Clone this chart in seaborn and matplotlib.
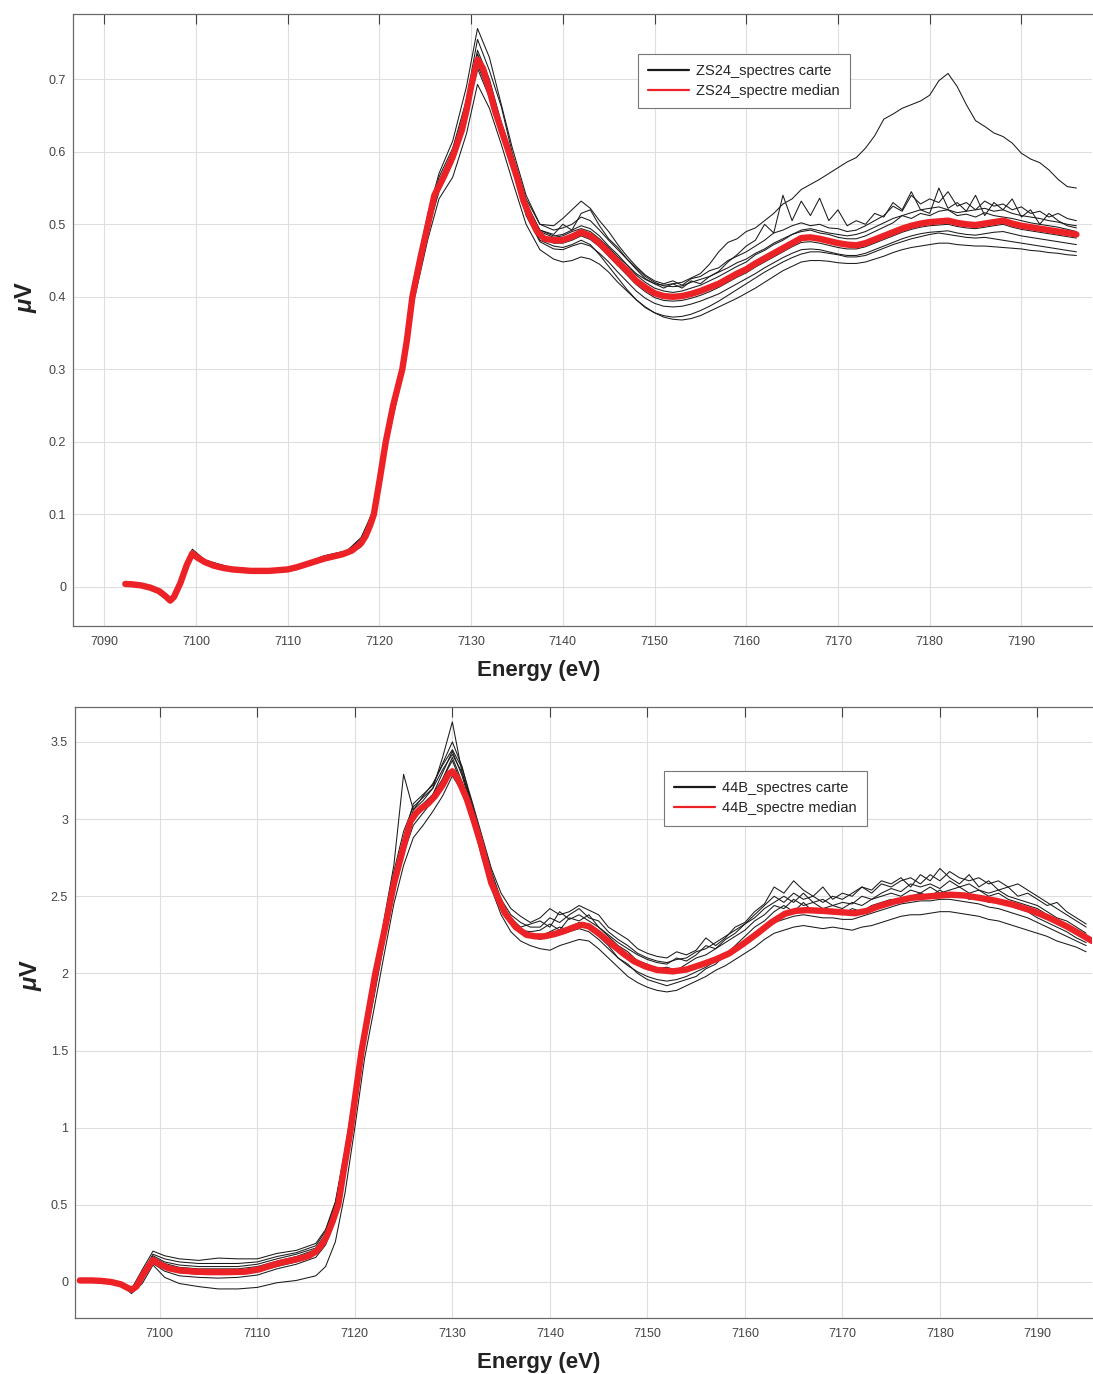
import pandas as pd
import matplotlib
matplotlib.use('Agg')
import matplotlib.pyplot as plt
from matplotlib.lines import Line2D
import seaborn as sns

# ---------------- ZS24 (top panel) ----------------
E_ZS24_MED = [7092.3, 7093, 7094, 7095, 7096, 7096.7, 7097.2, 7097.6, 7098.3, 7099, 7099.6, 7100.2,
              7101, 7102, 7103, 7104, 7105, 7106, 7107, 7108, 7109, 7110, 7111, 7112, 7113, 7114,
              7115, 7116, 7117, 7118, 7118.5, 7119, 7119.4, 7120, 7120.7, 7121.5, 7122.5, 7123,
              7123.6, 7124.5, 7125.3, 7126, 7127, 7128, 7129, 7129.5, 7130, 7130.7, 7131.3, 7132,
              7132.6, 7133.3, 7134.1, 7135, 7135.7, 7136.5, 7137.2, 7138] + list(range(7139, 7197))
MU_ZS24_MED = [0.004, 0.0035, 0.002, -0.001, -0.006, -0.013, -0.019, -0.014, 0.005, 0.030, 0.046, 0.040,
               0.034, 0.029, 0.026, 0.024, 0.023, 0.022, 0.022, 0.022, 0.023, 0.024, 0.027, 0.031, 0.035, 0.039,
               0.042, 0.045, 0.050, 0.060, 0.070, 0.085, 0.100, 0.145, 0.200, 0.250, 0.300, 0.340,
               0.400, 0.455, 0.500, 0.540, 0.565, 0.593, 0.630, 0.657, 0.690, 0.727, 0.715, 0.685,
               0.657, 0.630, 0.600, 0.565, 0.533, 0.508, 0.490, 0.480,
               0.478, 0.478, 0.483, 0.489, 0.484, 0.474, 0.461, 0.448, 0.436, 0.422,
               0.413, 0.405, 0.401, 0.400, 0.401, 0.404, 0.408, 0.413, 0.418, 0.425,
               0.432, 0.438, 0.446, 0.453, 0.460, 0.467, 0.474, 0.481, 0.482, 0.480,
               0.477, 0.474, 0.472, 0.471, 0.474, 0.479, 0.484, 0.489, 0.494, 0.498,
               0.501, 0.503, 0.504, 0.505, 0.502, 0.500, 0.499, 0.501, 0.503, 0.505,
               0.501, 0.498, 0.496, 0.494, 0.492, 0.490, 0.488, 0.486]

E_ZS24 = [7092.3, 7095, 7097.2, 7098.3, 7099.6, 7101, 7104, 7108, 7111, 7114, 7116.5,
          7118, 7119.4, 7120.7, 7122.5, 7123.6, 7125.3, 7126.5, 7128, 7129.5, 7130.7, 7132,
          7133.3, 7134.5, 7136, 7137.5] + list(range(7139, 7197))

ZS24_1 = [0.004, -0.001, -0.021, 0.006, 0.052, 0.037, 0.026, 0.024, 0.028, 0.043, 0.050,
          0.066, 0.108, 0.210, 0.310, 0.415, 0.515, 0.570, 0.615, 0.690, 0.770, 0.730, 0.665, 0.605, 0.540, 0.500,
          0.492, 0.495, 0.500, 0.510, 0.505, 0.492, 0.478, 0.465, 0.452, 0.440,
          0.428, 0.420, 0.415, 0.414, 0.415, 0.420, 0.424, 0.428, 0.434, 0.440,
          0.447, 0.452, 0.460, 0.466, 0.474, 0.480, 0.486, 0.492, 0.494, 0.491,
          0.488, 0.486, 0.484, 0.486, 0.490, 0.496, 0.502, 0.508, 0.512, 0.516,
          0.520, 0.522, 0.524, 0.520, 0.516, 0.518, 0.520, 0.522, 0.518, 0.520,
          0.515, 0.512, 0.510, 0.508, 0.505, 0.503, 0.500, 0.498]
ZS24_2 = [0.004, -0.001, -0.017, 0.004, 0.044, 0.033, 0.023, 0.021, 0.025, 0.036, 0.044,
          0.055, 0.094, 0.190, 0.290, 0.385, 0.480, 0.535, 0.565, 0.625, 0.693, 0.660, 0.610, 0.560, 0.500, 0.465,
          0.452, 0.448, 0.450, 0.455, 0.452, 0.445, 0.434, 0.420, 0.408, 0.396,
          0.386, 0.378, 0.372, 0.369, 0.368, 0.370, 0.374, 0.380, 0.386, 0.392,
          0.398, 0.405, 0.412, 0.420, 0.428, 0.436, 0.442, 0.448, 0.450, 0.450,
          0.449, 0.447, 0.446, 0.446, 0.448, 0.452, 0.456, 0.461, 0.465, 0.468,
          0.470, 0.472, 0.474, 0.474, 0.472, 0.471, 0.470, 0.470, 0.469, 0.468,
          0.467, 0.466, 0.464, 0.463, 0.461, 0.460, 0.458, 0.457]
ZS24_3 = [0.004, -0.001, -0.019, 0.005, 0.048, 0.035, 0.025, 0.023, 0.028, 0.040, 0.048,
          0.062, 0.102, 0.205, 0.305, 0.405, 0.505, 0.560, 0.600, 0.665, 0.740, 0.700, 0.640, 0.595, 0.530, 0.492,
          0.486, 0.500, 0.492, 0.515, 0.520, 0.498, 0.480, 0.468, 0.452, 0.438,
          0.425, 0.418, 0.412, 0.418, 0.412, 0.422, 0.418, 0.428, 0.435, 0.448,
          0.458, 0.470, 0.478, 0.500, 0.488, 0.540, 0.505, 0.532, 0.512, 0.536,
          0.505, 0.520, 0.498, 0.505, 0.500, 0.515, 0.510, 0.530, 0.520, 0.545,
          0.520, 0.515, 0.550, 0.522, 0.530, 0.518, 0.540, 0.512, 0.530, 0.520,
          0.535, 0.510, 0.520, 0.500, 0.515, 0.505, 0.498, 0.495]
ZS24_4 = [0.004, -0.001, -0.020, 0.004, 0.045, 0.033, 0.023, 0.021, 0.026, 0.037, 0.045,
          0.058, 0.098, 0.195, 0.295, 0.395, 0.492, 0.545, 0.585, 0.648, 0.715, 0.675, 0.622, 0.578, 0.512, 0.476,
          0.466, 0.465, 0.470, 0.474, 0.470, 0.460, 0.448, 0.434, 0.421, 0.408,
          0.398, 0.391, 0.387, 0.386, 0.387, 0.390, 0.394, 0.399, 0.404, 0.411,
          0.418, 0.425, 0.432, 0.440, 0.447, 0.454, 0.460, 0.465, 0.466, 0.465,
          0.462, 0.459, 0.457, 0.457, 0.460, 0.465, 0.470, 0.475, 0.480, 0.484,
          0.487, 0.489, 0.490, 0.491, 0.488, 0.486, 0.485, 0.487, 0.489, 0.490,
          0.487, 0.484, 0.482, 0.480, 0.478, 0.476, 0.474, 0.472]
ZS24_5 = [0.004, -0.001, -0.019, 0.005, 0.047, 0.035, 0.025, 0.022, 0.027, 0.040, 0.048,
          0.061, 0.101, 0.202, 0.302, 0.403, 0.503, 0.556, 0.598, 0.662, 0.735, 0.695, 0.638, 0.592, 0.528, 0.492,
          0.484, 0.486, 0.492, 0.498, 0.494, 0.484, 0.470, 0.458, 0.444, 0.430,
          0.420, 0.412, 0.408, 0.406, 0.408, 0.412, 0.416, 0.422, 0.428, 0.435,
          0.442, 0.448, 0.458, 0.464, 0.472, 0.478, 0.486, 0.490, 0.492, 0.488,
          0.486, 0.482, 0.480, 0.480, 0.484, 0.490, 0.496, 0.502, 0.512, 0.508,
          0.515, 0.512, 0.518, 0.520, 0.512, 0.514, 0.510, 0.516, 0.512, 0.510,
          0.508, 0.505, 0.502, 0.500, 0.498, 0.496, 0.493, 0.490]
ZS24_6 = [0.004, -0.001, -0.020, 0.004, 0.046, 0.034, 0.024, 0.022, 0.026, 0.038, 0.046,
          0.058, 0.098, 0.198, 0.298, 0.398, 0.496, 0.548, 0.588, 0.650, 0.720, 0.680, 0.626, 0.582, 0.516, 0.478,
          0.470, 0.468, 0.472, 0.478, 0.472, 0.458, 0.442, 0.426, 0.410, 0.396,
          0.385, 0.378, 0.374, 0.372, 0.373, 0.376, 0.381, 0.387, 0.394, 0.402,
          0.410, 0.418, 0.426, 0.434, 0.441, 0.448, 0.454, 0.459, 0.462, 0.462,
          0.460, 0.458, 0.455, 0.455, 0.457, 0.462, 0.467, 0.472, 0.476, 0.480,
          0.483, 0.486, 0.488, 0.486, 0.484, 0.482, 0.481, 0.482, 0.480, 0.478,
          0.476, 0.474, 0.472, 0.470, 0.468, 0.466, 0.464, 0.462]
ZS24_7 = [0.004, -0.001, -0.019, 0.005, 0.049, 0.036, 0.025, 0.023, 0.028, 0.041, 0.049,
          0.063, 0.104, 0.206, 0.306, 0.408, 0.510, 0.565, 0.605, 0.672, 0.755, 0.712, 0.662, 0.598, 0.535, 0.500,
          0.498, 0.508, 0.520, 0.532, 0.522, 0.505, 0.490, 0.472, 0.456, 0.442,
          0.430, 0.422, 0.418, 0.422, 0.416, 0.425, 0.428, 0.436, 0.440, 0.450,
          0.456, 0.462, 0.470, 0.478, 0.488, 0.492, 0.498, 0.502, 0.498, 0.500,
          0.495, 0.494, 0.490, 0.492, 0.498, 0.505, 0.512, 0.525, 0.518, 0.540,
          0.528, 0.535, 0.530, 0.545, 0.525, 0.530, 0.520, 0.532, 0.525, 0.528,
          0.520, 0.524, 0.515, 0.518, 0.510, 0.515, 0.508, 0.505]
ZS24_8 = [0.004, -0.001, -0.019, 0.005, 0.046, 0.034, 0.024, 0.022, 0.027, 0.039, 0.047,
          0.060, 0.100, 0.200, 0.300, 0.400, 0.500, 0.552, 0.592, 0.655, 0.725, 0.684, 0.629, 0.584, 0.519, 0.482,
          0.474, 0.474, 0.478, 0.484, 0.479, 0.469, 0.456, 0.443, 0.430, 0.417,
          0.407, 0.399, 0.395, 0.394, 0.395, 0.398, 0.402, 0.407, 0.413, 0.420,
          0.427, 0.433, 0.441, 0.448, 0.455, 0.462, 0.469, 0.475, 0.476, 0.474,
          0.471, 0.468, 0.466, 0.466, 0.469, 0.474, 0.479, 0.484, 0.489, 0.493,
          0.496, 0.498, 0.499, 0.500, 0.497, 0.495, 0.494, 0.496, 0.498, 0.500,
          0.496, 0.493, 0.491, 0.489, 0.487, 0.485, 0.483, 0.481]
ZS24_9 = [0.004, -0.001, -0.019, 0.005, 0.047, 0.035, 0.025, 0.023, 0.028, 0.041, 0.050,
          0.068, 0.105, 0.205, 0.305, 0.405, 0.505, 0.555, 0.595, 0.660, 0.730, 0.690, 0.635, 0.590, 0.525, 0.490,
          0.482, 0.484, 0.490, 0.494, 0.490, 0.480, 0.468, 0.455, 0.444, 0.432,
          0.424, 0.418, 0.416, 0.418, 0.420, 0.426, 0.432, 0.445, 0.462, 0.475,
          0.480, 0.490, 0.495, 0.505, 0.515, 0.528, 0.535, 0.548, 0.555, 0.562,
          0.570, 0.578, 0.586, 0.592, 0.605, 0.622, 0.645, 0.652, 0.660, 0.665,
          0.670, 0.678, 0.698, 0.708, 0.690, 0.665, 0.643, 0.635, 0.626, 0.621,
          0.612, 0.598, 0.590, 0.585, 0.575, 0.562, 0.552, 0.550]

# ---------------- 44B (bottom panel) ----------------
E_44B_MED = [7091.8, 7093, 7094, 7095, 7096, 7096.6, 7097.1, 7097.6, 7098.3, 7099.3, 7100, 7100.9,
             7102, 7103.7, 7105, 7107, 7108.8, 7110.2, 7111.3, 7112.4, 7113.5, 7114.5, 7115.3, 7116,
             7116.6, 7117.1, 7117.7, 7118.3, 7118.9, 7119.6, 7120.1, 7120.7, 7121.4, 7122.1, 7123.2,
             7124, 7125, 7125.7, 7126.3, 7126.8, 7127.5, 7128.2, 7129, 7129.6, 7130, 7130.5, 7131,
             7131.5, 7132.2, 7132.9, 7134, 7135.4, 7136.5, 7137.6, 7138.5, 7139.4, 7140.5, 7141.5,
             7142.5, 7143.3, 7144, 7145, 7146.2, 7147.5, 7148.6, 7149.8, 7151, 7152.6, 7154, 7155.5,
             7157, 7158.4, 7159.8, 7161.3, 7162.7, 7164.1, 7165.2, 7166.3, 7168, 7169.5, 7171.3,
             7172.5, 7173.5, 7175.3, 7177.1, 7179, 7181.1, 7182.5, 7184, 7185.8, 7187.5, 7189.5,
             7191.2, 7193, 7194.8, 7195.6]
MU_44B_MED = [0.010, 0.010, 0.007, 0.000, -0.015, -0.035, -0.050, -0.030, 0.050, 0.143, 0.115, 0.089,
              0.075, 0.067, 0.064, 0.064, 0.067, 0.082, 0.105, 0.125, 0.140, 0.154, 0.170, 0.197,
              0.240, 0.294, 0.390, 0.500, 0.740, 1.000, 1.230, 1.500, 1.750, 2.000, 2.326,
              2.580, 2.820, 2.985, 3.040, 3.070, 3.100, 3.147, 3.220, 3.290, 3.310, 3.270, 3.200,
              3.126, 2.990, 2.845, 2.585, 2.390, 2.300, 2.250, 2.240, 2.240, 2.255, 2.275,
              2.300, 2.315, 2.305, 2.260, 2.197, 2.130, 2.080, 2.045, 2.022, 2.013, 2.025, 2.056,
              2.090, 2.130, 2.190, 2.260, 2.330, 2.386, 2.405, 2.410, 2.405, 2.398, 2.390,
              2.405, 2.430, 2.465, 2.490, 2.500, 2.510, 2.505, 2.490, 2.470, 2.445, 2.405,
              2.360, 2.305, 2.240, 2.210]

E_44B = [7091.8, 7094, 7096, 7097.1, 7098.2, 7099.3, 7100.5, 7102, 7104, 7106, 7108, 7110,
         7112, 7114, 7116] + list(range(7117, 7139)) + list(range(7139, 7196))

B44_1 = [0.010, 0.008, -0.012, -0.045, 0.080, 0.200, 0.170, 0.150, 0.140, 0.155, 0.150, 0.150, 0.185, 0.205, 0.250,
         0.340, 0.520, 0.860, 1.260, 1.660, 1.980, 2.350, 2.700, 3.290, 3.060, 3.150, 3.230, 3.350, 3.450, 3.330,
         3.120, 2.900, 2.680, 2.520, 2.420, 2.370, 2.330,
         2.36, 2.42, 2.38, 2.40, 2.44, 2.41, 2.38, 2.30, 2.26, 2.22,
         2.16, 2.13, 2.11, 2.10, 2.14, 2.12, 2.15, 2.23, 2.18, 2.23,
         2.30, 2.33, 2.40, 2.45, 2.56, 2.52, 2.60, 2.54, 2.50, 2.56,
         2.48, 2.52, 2.50, 2.56, 2.54, 2.60, 2.58, 2.62, 2.56, 2.64,
         2.60, 2.68, 2.62, 2.58, 2.64, 2.56, 2.60, 2.54, 2.56, 2.50,
         2.52, 2.48, 2.44, 2.46, 2.40, 2.36, 2.32]
B44_2 = [0.010, 0.005, -0.020, -0.075, -0.010, 0.110, 0.030, -0.010, -0.030, -0.045, -0.045, -0.035, -0.005, 0.010, 0.040,
         0.10, 0.26, 0.58, 1.00, 1.45, 1.78, 2.12, 2.45, 2.70, 2.88, 2.96, 3.05, 3.15, 3.28, 3.18,
         3.00, 2.76, 2.55, 2.38, 2.27, 2.21, 2.18,
         2.16, 2.15, 2.18, 2.20, 2.22, 2.21, 2.16, 2.10, 2.04, 1.98,
         1.94, 1.91, 1.89, 1.88, 1.89, 1.92, 1.95, 1.98, 2.02, 2.05,
         2.09, 2.13, 2.17, 2.22, 2.26, 2.28, 2.30, 2.31, 2.30, 2.29,
         2.30, 2.29, 2.28, 2.30, 2.31, 2.33, 2.35, 2.37, 2.38, 2.38,
         2.39, 2.40, 2.40, 2.39, 2.38, 2.37, 2.35, 2.34, 2.32, 2.30,
         2.28, 2.26, 2.24, 2.21, 2.19, 2.17, 2.14]
B44_3 = [0.010, 0.007, -0.015, -0.055, 0.050, 0.170, 0.130, 0.110, 0.100, 0.100, 0.100, 0.115, 0.150, 0.180, 0.220,
         0.31, 0.49, 0.82, 1.22, 1.62, 1.94, 2.30, 2.62, 2.88, 3.10, 3.16, 3.22, 3.36, 3.50, 3.34,
         3.10, 2.86, 2.64, 2.46, 2.36, 2.30, 2.32,
         2.34, 2.30, 2.40, 2.35, 2.38, 2.34, 2.30, 2.25, 2.20, 2.16,
         2.12, 2.09, 2.07, 2.06, 2.10, 2.08, 2.12, 2.18, 2.16, 2.22,
         2.26, 2.32, 2.36, 2.42, 2.46, 2.50, 2.46, 2.52, 2.46, 2.48,
         2.44, 2.46, 2.45, 2.50, 2.48, 2.52, 2.55, 2.53, 2.58, 2.56,
         2.58, 2.55, 2.60, 2.56, 2.58, 2.54, 2.52, 2.54, 2.50, 2.48,
         2.46, 2.44, 2.40, 2.36, 2.34, 2.30, 2.26]
B44_4 = [0.010, 0.006, -0.018, -0.065, 0.020, 0.120, 0.070, 0.040, 0.030, 0.025, 0.030, 0.045, 0.085, 0.115, 0.160,
         0.24, 0.40, 0.72, 1.12, 1.54, 1.86, 2.20, 2.52, 2.78, 2.96, 3.04, 3.12, 3.26, 3.40, 3.24,
         3.04, 2.80, 2.58, 2.42, 2.32, 2.26, 2.24,
         2.22, 2.24, 2.25, 2.27, 2.29, 2.27, 2.22, 2.16, 2.10, 2.05,
         2.01, 1.98, 1.96, 1.95, 1.96, 1.98, 2.01, 2.04, 2.08, 2.11,
         2.15, 2.20, 2.24, 2.29, 2.33, 2.35, 2.37, 2.38, 2.37, 2.36,
         2.36, 2.35, 2.35, 2.37, 2.39, 2.41, 2.43, 2.45, 2.46, 2.47,
         2.47, 2.48, 2.48, 2.47, 2.46, 2.45, 2.43, 2.42, 2.40, 2.38,
         2.36, 2.33, 2.30, 2.27, 2.24, 2.21, 2.18]
B44_5 = [0.010, 0.008, -0.014, -0.050, 0.045, 0.160, 0.120, 0.095, 0.085, 0.085, 0.085, 0.100, 0.135, 0.165, 0.210,
         0.30, 0.48, 0.80, 1.20, 1.60, 1.92, 2.28, 2.60, 2.86, 3.06, 3.12, 3.20, 3.40, 3.63, 3.30,
         3.08, 2.85, 2.62, 2.45, 2.34, 2.28, 2.27,
         2.28, 2.32, 2.28, 2.36, 2.34, 2.38, 2.30, 2.24, 2.18, 2.14,
         2.08, 2.06, 2.03, 2.04, 2.02, 2.06, 2.10, 2.12, 2.16, 2.20,
         2.24, 2.28, 2.34, 2.38, 2.44, 2.42, 2.48, 2.44, 2.46, 2.42,
         2.44, 2.42, 2.46, 2.44, 2.48, 2.50, 2.52, 2.50, 2.54, 2.52,
         2.56, 2.52, 2.54, 2.56, 2.52, 2.54, 2.50, 2.52, 2.48, 2.46,
         2.44, 2.42, 2.38, 2.35, 2.31, 2.27, 2.24]
B44_6 = [0.010, 0.007, -0.016, -0.060, 0.030, 0.140, 0.090, 0.060, 0.050, 0.050, 0.050, 0.065, 0.100, 0.130, 0.180,
         0.27, 0.44, 0.76, 1.16, 1.57, 1.88, 2.24, 2.56, 2.82, 3.00, 3.08, 3.16, 3.30, 3.44, 3.28,
         3.06, 2.82, 2.60, 2.44, 2.33, 2.27, 2.25,
         2.24, 2.27, 2.30, 2.28, 2.32, 2.29, 2.24, 2.18, 2.10, 2.06,
         2.00, 1.96, 1.94, 1.92, 1.94, 1.96, 1.98, 2.03, 2.06, 2.12,
         2.18, 2.24, 2.30, 2.34, 2.40, 2.44, 2.40, 2.46, 2.40, 2.42,
         2.40, 2.38, 2.42, 2.40, 2.44, 2.46, 2.48, 2.46, 2.50, 2.52,
         2.50, 2.54, 2.50, 2.52, 2.48, 2.50, 2.46, 2.48, 2.44, 2.42,
         2.40, 2.36, 2.33, 2.30, 2.27, 2.23, 2.20]
B44_7 = [0.010, 0.008, -0.013, -0.048, 0.060, 0.180, 0.150, 0.130, 0.120, 0.120, 0.120, 0.130, 0.165, 0.190, 0.235,
         0.33, 0.51, 0.84, 1.24, 1.64, 1.96, 2.33, 2.66, 2.92, 3.08, 3.14, 3.20, 3.32, 3.42, 3.30,
         3.10, 2.88, 2.66, 2.48, 2.38, 2.33, 2.30,
         2.30, 2.36, 2.33, 2.38, 2.42, 2.36, 2.34, 2.27, 2.22, 2.18,
         2.13, 2.10, 2.08, 2.07, 2.09, 2.10, 2.14, 2.16, 2.20, 2.24,
         2.28, 2.32, 2.38, 2.44, 2.50, 2.46, 2.52, 2.48, 2.50, 2.46,
         2.50, 2.48, 2.52, 2.56, 2.52, 2.58, 2.56, 2.60, 2.62, 2.58,
         2.64, 2.60, 2.66, 2.62, 2.60, 2.62, 2.58, 2.60, 2.56, 2.58,
         2.54, 2.50, 2.46, 2.42, 2.38, 2.34, 2.30]
B44_8 = [0.010, 0.007, -0.015, -0.055, 0.040, 0.150, 0.110, 0.085, 0.075, 0.070, 0.070, 0.085, 0.125, 0.150, 0.200,
         0.29, 0.47, 0.80, 1.20, 1.60, 1.90, 2.26, 2.58, 2.84, 3.03, 3.10, 3.16, 3.26, 3.38, 3.22,
         3.04, 2.82, 2.59, 2.44, 2.34, 2.28, 2.25,
         2.25, 2.26, 2.28, 2.30, 2.33, 2.31, 2.26, 2.20, 2.15, 2.10,
         2.06, 2.04, 2.02, 2.01, 2.02, 2.03, 2.05, 2.07, 2.10, 2.13,
         2.16, 2.21, 2.26, 2.30, 2.35, 2.39, 2.40, 2.42, 2.40, 2.41,
         2.40, 2.39, 2.39, 2.40, 2.42, 2.45, 2.47, 2.48, 2.50, 2.50,
         2.51, 2.50, 2.52, 2.51, 2.50, 2.49, 2.48, 2.46, 2.45, 2.43,
         2.41, 2.38, 2.36, 2.33, 2.30, 2.26, 2.23]

RED = '#ec2227'
BLACK = '#1a1a1a'

sns.set_style('whitegrid')
plt.rcParams['font.family'] = ['Liberation Sans', 'DejaVu Sans']
plt.rcParams['mathtext.fontset'] = 'custom'
plt.rcParams['mathtext.it'] = 'Liberation Sans:italic:bold'
plt.rcParams['mathtext.rm'] = 'Liberation Sans:bold'


def long_table(energy, curves):
    frames = []
    for name, vals in curves.items():
        assert len(vals) == len(energy), name
        frames.append(pd.DataFrame({'E': energy, 'mu': vals, 'spec': name}))
    return pd.concat(frames, ignore_index=True)


def draw_panel(ax, energy, curves, e_med, mu_med, tag, xlim, ylim, xticks, yticks, ylabels,
               leg_anchor, xlab_pos, ylab_pos):
    df = long_table(energy, curves)
    sns.lineplot(data=df, x='E', y='mu', units='spec', estimator=None, color=BLACK,
                 linewidth=0.75, sort=False, legend=False, ax=ax)
    sns.lineplot(x=e_med, y=mu_med, color=RED, linewidth=4.6, sort=False, ax=ax, zorder=5)
    ax.set_xlim(*xlim)
    ax.set_ylim(*ylim)
    ax.set_xticks(xticks)
    ax.set_xticklabels([str(t) for t in xticks])
    ax.set_yticks(yticks)
    ax.set_yticklabels(ylabels)
    ax.grid(True, color='#dedede', linewidth=0.8)
    for s in ax.spines.values():
        s.set_visible(True)
        s.set_color('#6a6a6a')
        s.set_linewidth(0.9)
    # the right edge of the axes falls at the border of the picture
    ax.spines['right'].set_visible(False)
    ax.tick_params(direction='in', top=True, right=False, length=7.5, width=0.8,
                   color='#404040', labelcolor='#444444', labelsize=9)
    ax.tick_params(axis='x', pad=7)
    ax.tick_params(axis='y', pad=5)
    ax.set_xlabel('Energy (eV)', fontsize=16, fontweight='bold', color='#222222')
    ax.xaxis.set_label_coords(*xlab_pos)
    ax.set_ylabel(r'$\mu$V', fontsize=17, fontweight='bold', color='#222222')
    ax.yaxis.set_label_coords(*ylab_pos)
    handles = [Line2D([], [], color=BLACK, linewidth=1.6),
               Line2D([], [], color=RED, linewidth=1.6)]
    leg = ax.legend(handles, [f'{tag}_spectres carte', f'{tag}_spectre median'],
                    loc='upper left', bbox_to_anchor=leg_anchor, borderaxespad=0,
                    fontsize=10.5, frameon=True, fancybox=False, framealpha=1,
                    edgecolor='#777777', handlelength=2.8, handletextpad=0.5,
                    labelspacing=0.42, borderpad=0.7)
    leg.get_frame().set_linewidth(0.8)
    leg.set_zorder(10)


fig = plt.figure(figsize=(10.93, 13.74), dpi=100)
ax1 = fig.add_axes([0.0668, 0.5444, 0.9323, 0.4454])
ax2 = fig.add_axes([0.0686, 0.0408, 0.9305, 0.4447])

draw_panel(ax1, E_ZS24,
           {'s1': ZS24_1, 's2': ZS24_2, 's3': ZS24_3, 's4': ZS24_4, 's5': ZS24_5,
            's6': ZS24_6, 's7': ZS24_7, 's8': ZS24_8, 's9': ZS24_9},
           E_ZS24_MED, MU_ZS24_MED, 'ZS24',
           (7086.6, 7197.7), (-0.054, 0.79),
           list(range(7090, 7191, 10)),
           [0, 0.1, 0.2, 0.3, 0.4, 0.5, 0.6, 0.7],
           ['0', '0.1', '0.2', '0.3', '0.4', '0.5', '0.6', '0.7'],
           (0.5545, 0.935), (0.457, -0.056), (-0.033, 0.538))

draw_panel(ax2, E_44B,
           {'s1': B44_1, 's2': B44_2, 's3': B44_3, 's4': B44_4,
            's5': B44_5, 's6': B44_6, 's7': B44_7, 's8': B44_8},
           E_44B_MED, MU_44B_MED, '44B',
           (7091.3, 7195.6), (-0.233, 3.727),
           list(range(7100, 7191, 10)),
           [0, 0.5, 1, 1.5, 2, 2.5, 3, 3.5],
           ['0', '0.5', '1', '1.5', '2', '2.5', '3', '3.5'],
           (0.579, 0.895), (0.456, -0.056), (-0.030, 0.561))

fig.savefig('out.png', dpi=100)
